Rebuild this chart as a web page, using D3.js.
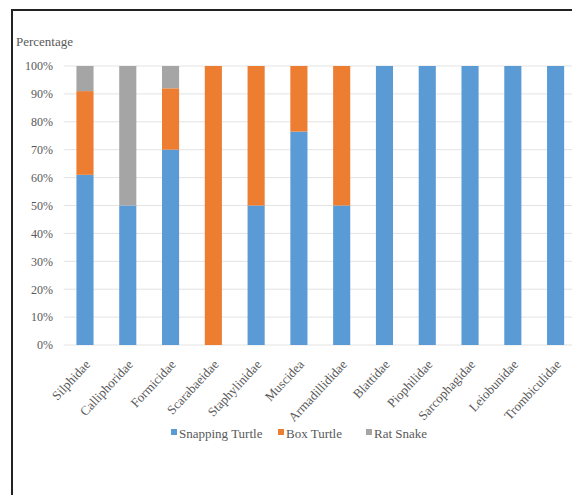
<!DOCTYPE html>
<html>
<head>
<meta charset="utf-8">
<script src="https://cdn.jsdelivr.net/npm/d3@7/dist/d3.min.js"></script>
<style>
  html, body { margin: 0; padding: 0; background: #fff; }
  svg { display: block; }
  svg text { font-family: "Times New Roman", "Liberation Serif", serif !important; fill: #595959; }
</style>
</head>
<body>
<svg id="chart" width="572" height="495"></svg>
<script>
// Families sampled and the share of each predator (percent)
const families = ["Silphidae", "Calliphoridae", "Formicidae", "Scarabaeidae", "Staphylinidae",
  "Muscidea", "Armadillididae", "Blattidae", "Piophilidae", "Sarcophagidae", "Leiobunidae", "Trombiculidae"];
const snappingTurtle = [61, 50, 70, 0, 50, 76.5, 50, 100, 100, 100, 100, 100];
const boxTurtle      = [30, 0, 22, 100, 50, 23.5, 50, 0, 0, 0, 0, 0];
const ratSnake       = [9, 50, 8, 0, 0, 0, 0, 0, 0, 0, 0, 0];
const seriesNames = ["Snapping Turtle", "Box Turtle", "Rat Snake"];
const seriesColors = ["#5B9BD5", "#ED7D31", "#A5A5A5"];
const yTicks = [0, 10, 20, 30, 40, 50, 60, 70, 80, 90, 100];

const svg = d3.select("#chart");

// frame
svg.append("path")
  .attr("d", "M12,495 V10 H572")
  .attr("fill", "none")
  .attr("stroke", "#222")
  .attr("stroke-width", 2);

const plot = { left: 63.6, right: 577, top: 66, bottom: 345 };

const x = d3.scaleBand()
  .domain(families)
  .range([plot.left, plot.right])
  .paddingInner(0.6)
  .paddingOuter(0.3);
const y = d3.scaleLinear().domain([0, 100]).range([plot.bottom, plot.top]);

// gridlines
svg.append("g")
  .selectAll("line")
  .data(yTicks)
  .join("line")
  .attr("x1", plot.left)
  .attr("x2", plot.right)
  .attr("y1", d => y(d))
  .attr("y2", d => y(d))
  .attr("stroke", "#E3E3E3")
  .attr("stroke-width", 1);

// y axis labels
const yAxis = d3.axisLeft(y).tickValues(yTicks).tickFormat(d => d + "%").tickSize(0).tickPadding(0);
const yg = svg.append("g").attr("transform", `translate(${53},0)`).call(yAxis);
yg.attr("font-family", null).attr("font-size", null);
yg.select(".domain").remove();
yg.selectAll("text")
  .style("font-size", "12px")
  .attr("fill", "#595959");

svg.append("text")
  .attr("x", 16)
  .attr("y", 46)
  .style("font-size", "13px")
  .text("Percentage");

// stacked bars
const rows = families.map((f, i) => ({
  family: f,
  "Snapping Turtle": snappingTurtle[i],
  "Box Turtle": boxTurtle[i],
  "Rat Snake": ratSnake[i]
}));
const stacked = d3.stack().keys(seriesNames)(rows);

svg.append("g")
  .selectAll("g")
  .data(stacked)
  .join("g")
  .attr("fill", (d, i) => seriesColors[i])
  .selectAll("rect")
  .data(d => d)
  .join("rect")
  .attr("x", d => x(d.data.family))
  .attr("width", x.bandwidth())
  .attr("y", d => y(d[1]))
  .attr("height", d => y(d[0]) - y(d[1]));

// x labels, rotated
const xAxis = d3.axisBottom(x).tickSize(0).tickPadding(0);
const xg = svg.append("g").attr("transform", `translate(0,${plot.bottom})`).call(xAxis);
xg.attr("font-family", null).attr("font-size", null);
xg.select(".domain").remove();
xg.selectAll("text")
  .style("font-size", "13px")
  .attr("fill", "#595959")
  .attr("text-anchor", "end")
  .attr("dy", null)
  .attr("y", null)
  .attr("transform", "translate(6,20) rotate(-47)");

// legend
const legendX = [171, 278, 366];
const lg = svg.append("g").selectAll("g")
  .data(seriesNames)
  .join("g")
  .attr("transform", (d, i) => `translate(${legendX[i]},${438})`);
lg.append("rect")
  .attr("x", 0).attr("y", -9).attr("width", 6).attr("height", 6)
  .attr("fill", (d, i) => seriesColors[i]);
lg.append("text")
  .attr("x", 8).attr("y", 0)
  .style("font-size", "13px")
  .text(d => d);
</script>
</body>
</html>
